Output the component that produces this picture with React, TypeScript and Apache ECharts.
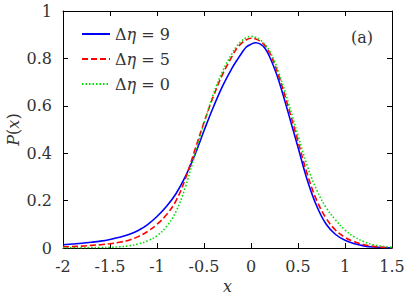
import React, { useEffect, useRef } from "react";
import * as echarts from "echarts";

const xs = [-2.0, -1.9, -1.8, -1.7, -1.6, -1.5, -1.4, -1.3, -1.2, -1.1, -1.0, -0.9, -0.8, -0.7, -0.6, -0.5, -0.4, -0.3, -0.2, -0.15, -0.1, -0.05, 0.0, 0.05, 0.1, 0.15, 0.2, 0.25, 0.3, 0.4, 0.5, 0.6, 0.7, 0.8, 0.9, 1.0, 1.1, 1.2, 1.3, 1.4, 1.5];

const eta9 = [0.014, 0.017, 0.02, 0.024, 0.029, 0.036, 0.045, 0.057, 0.074, 0.099, 0.133, 0.175, 0.228, 0.3, 0.39, 0.495, 0.595, 0.685, 0.76, 0.792, 0.822, 0.848, 0.86, 0.866, 0.86, 0.842, 0.805, 0.757, 0.7, 0.565, 0.425, 0.285, 0.176, 0.1, 0.057, 0.033, 0.018, 0.009, 0.004, 0.002, 0.001];

const eta5 = [0.005, 0.006, 0.008, 0.011, 0.014, 0.018, 0.024, 0.033, 0.048, 0.07, 0.1, 0.14, 0.198, 0.29, 0.41, 0.53, 0.64, 0.735, 0.81, 0.843, 0.864, 0.879, 0.885, 0.882, 0.872, 0.853, 0.822, 0.776, 0.72, 0.59, 0.45, 0.31, 0.2, 0.125, 0.075, 0.045, 0.026, 0.014, 0.007, 0.003, 0.001];

const eta0 = [0.001, 0.001, 0.001, 0.002, 0.002, 0.003, 0.005, 0.009, 0.017, 0.03, 0.052, 0.09, 0.152, 0.255, 0.39, 0.525, 0.65, 0.748, 0.822, 0.852, 0.873, 0.888, 0.893, 0.889, 0.877, 0.858, 0.83, 0.788, 0.735, 0.61, 0.475, 0.345, 0.244, 0.17, 0.118, 0.076, 0.047, 0.027, 0.014, 0.007, 0.003];

const seriesNames = ["Δη = 9", "Δη = 5", "Δη = 0"];
const legendSuffix = ["9", "5", "0"];

const FONT = "DejaVu Serif, Liberation Serif, serif";
const FS = 16;

export default function App() {
  const ref = useRef<HTMLDivElement>(null);
  useEffect(() => {
    if (!ref.current) return;
    const chart = echarts.init(ref.current, null, { renderer: "svg" });
    const pts = (ys: number[]) => xs.map((x, i) => [x, ys[i]]);
    const axisCommon = {
      axisLine: { show: true, onZero: false, lineStyle: { color: "#000", width: 1 } },
      splitLine: { show: false },
    };
    const tick = { show: true, inside: true, length: 5, lineStyle: { color: "#000" } };
    chart.setOption({
      animation: false,
      backgroundColor: "#fff",
      textStyle: { fontFamily: FONT },
      title: {
        text: "(a)",
        right: 29,
        top: 24,
        textStyle: { fontFamily: FONT, fontSize: FS, fontWeight: "normal", color: "#333" },
      },
      legend: {
        orient: "vertical",
        left: 76,
        top: 21,
        itemWidth: 28,
        itemHeight: 12,
        itemGap: 9,
        itemStyle: { opacity: 0 },
        data: seriesNames,
        formatter: (name: string) => {
          const i = seriesNames.indexOf(name);
          return "{u|Δ}{i|η}{u| = " + legendSuffix[i] + "}";
        },
        textStyle: {
          fontFamily: FONT,
          fontSize: FS,
          color: "#333",
          rich: {
            u: { fontFamily: FONT, fontSize: FS, color: "#333" },
            i: { fontFamily: FONT, fontSize: FS, fontStyle: "italic", color: "#333" },
          },
        },
      },
      grid: { left: 63, right: 15, top: 11, bottom: 48, containLabel: false, outerBoundsMode: "none" },
      xAxis: [
        {
          type: "value",
          min: -2,
          max: 1.5,
          interval: 0.5,
          position: "bottom",
          ...axisCommon,
          axisTick: tick,
          axisLabel: {
            margin: 10,
            fontFamily: FONT,
            fontSize: FS,
            color: "#333",
            formatter: (v: number) => String(v),
          },
          name: "x",
          nameLocation: "middle",
          nameGap: 30,
          nameTextStyle: { fontFamily: FONT, fontSize: FS, fontStyle: "italic", color: "#333" },
        },
        {
          type: "value",
          min: -2,
          max: 1.5,
          interval: 0.5,
          position: "top",
          ...axisCommon,
          axisTick: tick,
          axisLabel: { show: false },
        },
      ],
      yAxis: [
        {
          type: "value",
          min: 0,
          max: 1,
          interval: 0.2,
          position: "left",
          ...axisCommon,
          axisTick: tick,
          axisLabel: {
            margin: 11,
            fontFamily: FONT,
            fontSize: FS,
            color: "#333",
            formatter: (v: number) => String(Math.round(v * 10) / 10),
          },
          name: "{i|P}{u|(}{i|x}{u|)}",
          nameLocation: "middle",
          nameRotate: 90,
          nameGap: 42,
          nameMoveOverlap: false,
          nameTextStyle: {
            fontFamily: FONT,
            fontSize: FS,
            color: "#333",
            rich: {
              i: { fontFamily: FONT, fontSize: FS, fontStyle: "italic", color: "#333" },
              u: { fontFamily: FONT, fontSize: FS, color: "#333" },
            },
          },
        },
        {
          type: "value",
          min: 0,
          max: 1,
          interval: 0.2,
          position: "right",
          ...axisCommon,
          axisTick: tick,
          axisLabel: { show: false },
        },
      ],
      series: [
        {
          name: seriesNames[0],
          type: "line",
          xAxisIndex: 0,
          yAxisIndex: 0,
          data: pts(eta9),
          smooth: 0.4,
          showSymbol: false,
          symbol: "none",
          color: "#0000ff",
          lineStyle: { color: "#0000ff", width: 1.6, type: "solid" },
          z: 3,
        },
        {
          name: seriesNames[1],
          type: "line",
          xAxisIndex: 0,
          yAxisIndex: 0,
          data: pts(eta5),
          smooth: 0.4,
          showSymbol: false,
          symbol: "none",
          color: "#ff0000",
          lineStyle: { color: "#ff0000", width: 1.6, type: [6, 3] },
          z: 4,
        },
        {
          name: seriesNames[2],
          type: "line",
          xAxisIndex: 0,
          yAxisIndex: 0,
          data: pts(eta0),
          smooth: 0.4,
          showSymbol: false,
          symbol: "none",
          color: "#00e000",
          lineStyle: { color: "#00e000", width: 1.6, type: [1.5, 2] },
          z: 5,
        },
      ],
    });
    return () => chart.dispose();
  }, []);
  return <div ref={ref} style={{ width: 407, height: 296, position: "absolute", left: 0, top: 0 }} />;
}
